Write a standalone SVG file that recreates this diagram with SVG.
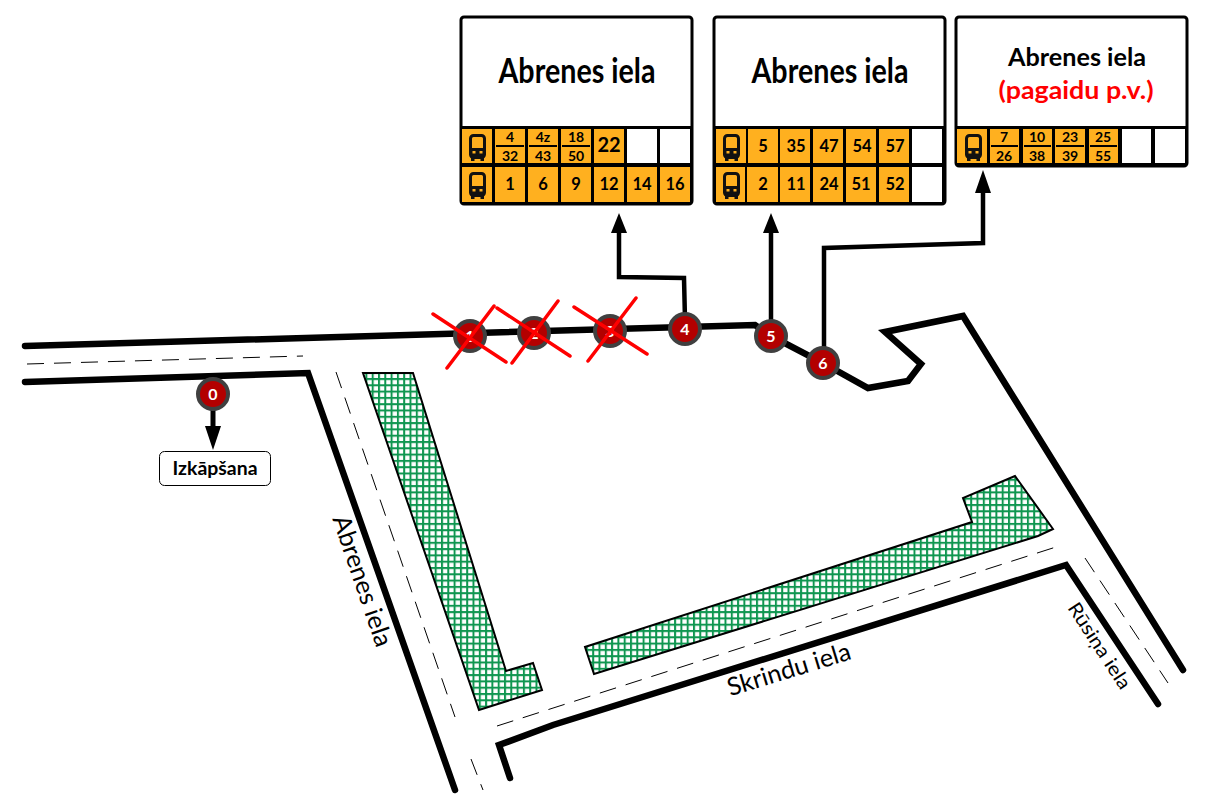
<svg xmlns="http://www.w3.org/2000/svg" xmlns:xlink="http://www.w3.org/1999/xlink" width="1206" height="800" viewBox="0 0 1206 800">
<style>
text{font-family:"Lato","Open Sans","Liberation Sans",sans-serif;text-anchor:middle;fill:#000}
.road{fill:none;stroke:#000;stroke-width:6.500;stroke-linecap:round;stroke-linejoin:miter}
.dash{fill:none;stroke:#000;stroke-width:1;stroke-dasharray:17 10}
.green{fill:url(#hatch);stroke:#000;stroke-width:2}
.panel{fill:#fff;stroke:#000;stroke-width:3}
.c{fill:#ffb01f}
.e{fill:#fff}
.grid{fill:#000}
.title{font-size:34px;font-weight:700}
.n{font-size:16.500px;font-weight:700}
.f{font-size:14px;font-weight:700}
.rule{stroke:#000;stroke-width:2}
.conn{fill:none;stroke:#000;stroke-width:4.500}
.head{fill:#000}
.dot{fill:#b30000;stroke:#404040;stroke-width:4}
.dt{font-size:16px;font-weight:700;fill:#fff}
.x{stroke:#ff0000;stroke-width:3.500;stroke-linecap:round}
.lab{font-size:25px;font-weight:400}
</style>
<defs>
<pattern id="hatch" patternUnits="userSpaceOnUse" width="6.300" height="6.300">
<rect width="6.300" height="6.300" fill="#fff"/>
<path d="M0 1H6.300M1 0V6.300" stroke="#0f9650" stroke-width="2" fill="none"/>
</pattern>
<g id="bus">
<rect x="1.500" y="1.500" width="14" height="22" rx="3" fill="none" stroke="#111" stroke-width="3"/>
<rect x="1" y="14" width="15" height="9" rx="1.500" fill="#111"/>
<rect x="3" y="5" width="11" height="9" fill="#ffb01f"/>
<rect x="3.500" y="17" width="3" height="2.500" fill="#ffb01f"/>
<rect x="10.500" y="17" width="3" height="2.500" fill="#ffb01f"/>
<rect x="2" y="23" width="3.500" height="4" fill="#111"/>
<rect x="11.500" y="23" width="3.500" height="4" fill="#111"/>
</g>
</defs>
<g id="roads">
<polyline class="road" points="25,346 755,325 771,336 823,363 868,388 908,381 921,364 885,332 963,316 1183,670"/>
<polyline class="road" points="25,382 308,373 455,790"/>
<polyline class="road" points="510,778 499,745 553,725 1066,565 1158,704"/>
<path class="dash" d="M27 364L303 356M336 372L455 717M471 759L483 790M497 726L1056 547M1085 558L1168 683"/>
<polygon class="green" points="363,373 413,373 506,671 533,663 542,690 479,710"/>
<polygon class="green" points="1015,476 963,498 972,522 585,647 594,674 1038,536 1053,529"/>
</g>
<g id="labels">
<text class="lab" transform="translate(362,581) rotate(71)" y="8" textLength="137" lengthAdjust="spacingAndGlyphs">Abrenes iela</text>
<text class="lab" transform="translate(789,670) rotate(-17)" y="8" textLength="128" lengthAdjust="spacingAndGlyphs">Skrindu iela</text>
<text class="lab" style="font-size:19px" transform="translate(1099,646) rotate(57)" y="6" textLength="99" lengthAdjust="spacingAndGlyphs">Rūsiņa iela</text>
</g>
<g id="connectors">
<polyline class="conn" points="685,320 684,278 619,277 619,230"/>
<polygon class="head" points="619,213 611,233 627,233"/>
<polyline class="conn" points="771,325 771,230"/>
<polygon class="head" points="771,213 763,233 779,233"/>
<polyline class="conn" points="824,352 824,248 983,243 983,190"/>
<polygon class="head" points="983,170 975,193 991,193"/>
<path d="M213 410V430" stroke="#000" stroke-width="5" fill="none"/>
<polygon class="head" points="213,450 205,426 221,426"/>
</g>
<g id="panel-1">
<rect class="panel" x="461" y="17" width="231" height="187" rx="3"/>
<rect class="grid" x="461" y="126" width="231" height="78"/>
<text class="title" x="577" y="83" textLength="157" lengthAdjust="spacingAndGlyphs">Abrenes iela</text>
<rect class="c" x="462" y="129" width="30" height="34"/><use xlink:href="#bus" href="#bus" x="469" y="134"/>
<rect class="c" x="495" y="129" width="30" height="34"/><text class="f" x="510" y="142">4</text><path class="rule" d="M496 146H524"/><text class="f" x="510" y="161">32</text>
<rect class="c" x="528" y="129" width="30" height="34"/><text class="f" x="543" y="142">4z</text><path class="rule" d="M529 146H557"/><text class="f" x="543" y="161">43</text>
<rect class="c" x="561" y="129" width="30" height="34"/><text class="f" x="576" y="142">18</text><path class="rule" d="M562 146H590"/><text class="f" x="576" y="161">50</text>
<rect class="c" x="594" y="129" width="30" height="34"/><text class="n" style="font-size:20px" x="609" y="152">22</text>
<rect class="e" x="627" y="129" width="30" height="34"/>
<rect class="e" x="660" y="129" width="30" height="34"/>
<rect class="c" x="462" y="167" width="30" height="35"/><use xlink:href="#bus" href="#bus" x="469" y="172"/>
<rect class="c" x="495" y="167" width="30" height="35"/><text class="n" x="510" y="190">1</text>
<rect class="c" x="528" y="167" width="30" height="35"/><text class="n" x="543" y="190">6</text>
<rect class="c" x="561" y="167" width="30" height="35"/><text class="n" x="576" y="190">9</text>
<rect class="c" x="594" y="167" width="30" height="35"/><text class="n" x="609" y="190">12</text>
<rect class="c" x="627" y="167" width="30" height="35"/><text class="n" x="642" y="190">14</text>
<rect class="c" x="660" y="167" width="30" height="35"/><text class="n" x="675" y="190">16</text>
</g>
<g id="panel-2">
<rect class="panel" x="714" y="17" width="231" height="187" rx="3"/>
<rect class="grid" x="714" y="126" width="231" height="78"/>
<text class="title" x="830" y="83" textLength="157" lengthAdjust="spacingAndGlyphs">Abrenes iela</text>
<rect class="c" x="716" y="129" width="30" height="34"/><use xlink:href="#bus" href="#bus" x="723" y="134"/>
<rect class="c" x="748" y="129" width="30" height="34"/><text class="n" x="763" y="152">5</text>
<rect class="c" x="780" y="129" width="30" height="34"/><text class="n" x="796" y="152">35</text>
<rect class="c" x="813" y="129" width="30" height="34"/><text class="n" x="829" y="152">47</text>
<rect class="c" x="846" y="129" width="30" height="34"/><text class="n" x="862" y="152">54</text>
<rect class="c" x="879" y="129" width="30" height="34"/><text class="n" x="895" y="152">57</text>
<rect class="e" x="912" y="129" width="30" height="34"/>
<rect class="c" x="716" y="167" width="29" height="35"/><use xlink:href="#bus" href="#bus" x="723" y="172"/>
<rect class="c" x="747" y="167" width="31" height="35"/><text class="n" x="763" y="190">2</text>
<rect class="c" x="780" y="167" width="30" height="35"/><text class="n" x="796" y="190">11</text>
<rect class="c" x="813" y="167" width="30" height="35"/><text class="n" x="829" y="190">24</text>
<rect class="c" x="846" y="167" width="30" height="35"/><text class="n" x="861" y="190">51</text>
<rect class="c" x="879" y="167" width="30" height="35"/><text class="n" x="895" y="190">52</text>
<rect class="e" x="912" y="167" width="30" height="35"/>
</g>
<g id="panel-3">
<rect class="panel" x="956" y="17" width="231" height="149" rx="3"/>
<rect class="grid" x="956" y="126" width="231" height="40"/>
<text x="1077" y="66" style="font-size:24px;font-weight:700" textLength="138" lengthAdjust="spacingAndGlyphs">Abrenes iela</text>
<text x="1076" y="99" style="font-size:24px;font-weight:700;fill:#ff0000" textLength="155" lengthAdjust="spacingAndGlyphs">(pagaidu p.v.)</text>
<rect class="c" x="957" y="129" width="30" height="34"/><use xlink:href="#bus" href="#bus" x="965" y="134"/>
<rect class="c" x="990" y="129" width="29" height="34"/><text class="f" x="1004" y="142">7</text><path class="rule" d="M991 146H1018"/><text class="f" x="1004" y="161">26</text>
<rect class="c" x="1023" y="129" width="29" height="34"/><text class="f" x="1037" y="142">10</text><path class="rule" d="M1024 146H1051"/><text class="f" x="1037" y="161">38</text>
<rect class="c" x="1055" y="129" width="30" height="34"/><text class="f" x="1070" y="142">23</text><path class="rule" d="M1056 146H1084"/><text class="f" x="1070" y="161">39</text>
<rect class="c" x="1089" y="129" width="29" height="34"/><text class="f" x="1103" y="142">25</text><path class="rule" d="M1090 146H1117"/><text class="f" x="1103" y="161">55</text>
<rect class="e" x="1122" y="129" width="29" height="34"/>
<rect class="e" x="1155" y="129" width="30" height="34"/>
</g>
<g id="exit-label">
<rect x="159.500" y="451.500" width="111" height="34" rx="5" fill="#fff" stroke="#000" stroke-width="1"/>
<text x="215" y="475" style="font-size:18px;font-weight:700" textLength="85" lengthAdjust="spacingAndGlyphs">Izkāpšana</text>
</g>
<g id="stop-0"><circle class="dot" cx="213" cy="394" r="15"/><text class="dt" x="213" y="400">0</text></g>
<g id="stop-1"><circle class="dot" cx="470" cy="336" r="15"/><text class="dt" x="470" y="342">1</text></g>
<g id="stop-2"><circle class="dot" cx="534" cy="333" r="15"/><text class="dt" x="534" y="339">2</text></g>
<g id="stop-3"><circle class="dot" cx="610" cy="331" r="15"/><text class="dt" x="610" y="337">3</text></g>
<g id="stop-4"><circle class="dot" cx="685" cy="329" r="15"/><text class="dt" x="685" y="335">4</text></g>
<g id="stop-5"><circle class="dot" cx="771" cy="336" r="15"/><text class="dt" x="771" y="342">5</text></g>
<g id="stop-6"><circle class="dot" cx="823" cy="363" r="15"/><text class="dt" x="823" y="369">6</text></g>
<g id="crosses">
<path class="x" d="M433 314L506 362M494 306L447 368M497 308L570 356M558 301L512 363M574 307L647 354M636 298L588 361"/>
</g>
</svg>
